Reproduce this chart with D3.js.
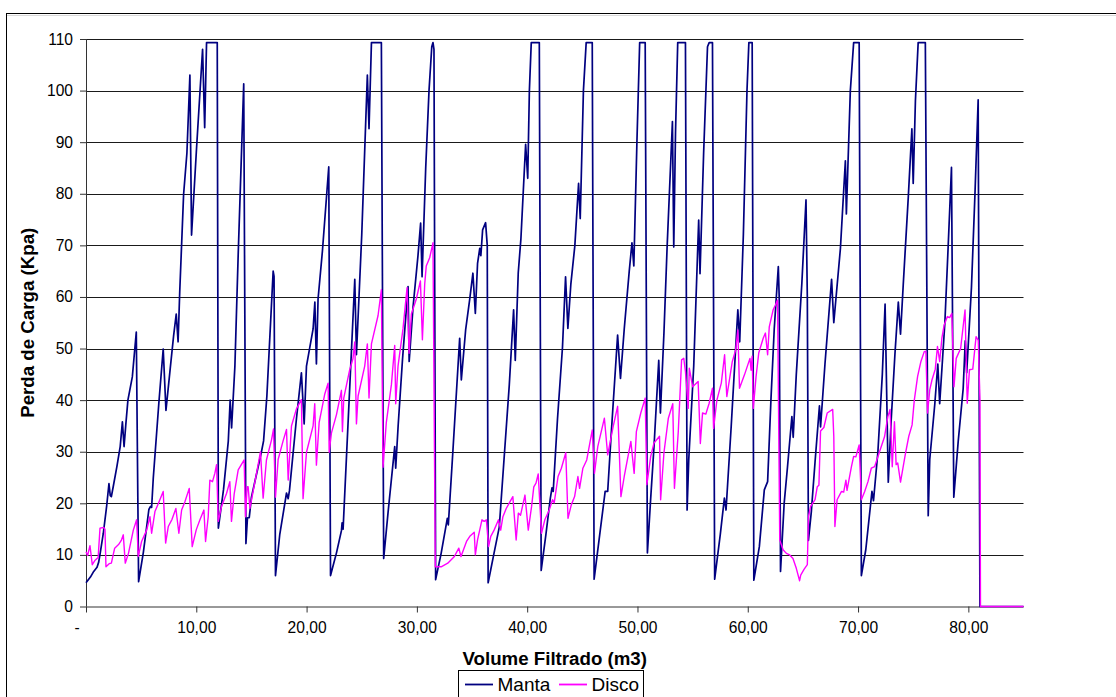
<!DOCTYPE html>
<html>
<head>
<meta charset="utf-8">
<script src="https://cdn.jsdelivr.net/npm/d3@7"></script>
<style>
  html, body { margin: 0; padding: 0; background: #fff; }
  svg { display: block; }
  text { font-family: "Liberation Sans", Arial, sans-serif; fill: #000; }
</style>
</head>
<body>
<svg id="chart" width="1116" height="697"></svg>
<script>
// ---------- DATA ----------
const xTicks = [0, 10, 20, 30, 40, 50, 60, 70, 80];
const yTicks = [0, 10, 20, 30, 40, 50, 60, 70, 80, 90, 100, 110];
const seriesNames = ["Manta", "Disco"];
const xTitle = "Volume Filtrado (m3)";
const yTitle = "Perda de Carga (Kpa)";

// [volume filtrado (m3), perda de carga (kPa)]
const manta = [
[0,4.6],[0.4,5.7],[0.7,6.8],[1.0,7.6],[1.15,8.6],[1.3,10.5],[1.57,14.2],[1.87,19.4],[2.08,23.8],[2.2,21.5],[2.3,21.3],[2.5,23.6],[2.8,27.1],[3.1,31],[3.3,35.8],[3.45,31],[3.6,35],[3.8,40],[4.2,44.5],[4.56,53.2],[4.77,4.8],
[5.2,10.5],[5.7,18.8],[5.85,19.4],[5.95,19.2],[6.1,24.9],[6.6,39.3],[7.0,49.9],[7.25,38],[7.64,46.2],[7.94,52.4],[8.18,56.7],[8.35,51.3],[8.5,61.1],[8.85,79.9],[9.15,87.9],[9.42,103],[9.57,72],[10.0,88],[10.57,108],[10.76,92.8],[10.93,109.3],[11.9,109.3],[12.0,15.2],
[12.47,22.7],[12.9,32],[13.07,40],[13.2,34.6],[13.5,46.6],[13.8,68.3],[14.3,101.3],[14.5,12.2],
[14.64,17.2],[14.8,17.2],[15.0,21.2],[15.6,27],[15.9,29.9],[16.1,32.1],[16.4,40.8],[16.97,65],[17.05,64],[17.18,6.0],
[17.57,14],[18.18,22],[18.33,20.9],[18.45,22.5],[19.08,36.4],[19.53,45.3],[19.78,35.4],[19.99,46.6],[20.59,53.8],[20.75,59],[20.89,47],[21.04,59.6],[21.44,69],[22.01,85.2],[22.17,6.0],
[22.71,10.4],[23.16,14.7],[23.22,16.2],[23.31,15],[24.37,63.4],[24.52,48.8],[25.0,72],[25.51,103],[25.66,92.6],[25.88,109.3],[26.78,109.3],[26.99,9.3],
[27.39,18.3],[27.99,31],[28.08,26.8],[28.3,35],[28.7,48],[29.2,62],[29.3,47.5],[29.65,58],[30.1,68],[30.34,74.3],[30.47,63.9],[30.8,85],[31.1,100],[31.35,108.5],[31.46,109.3],[31.55,108],[31.7,5.2],
[32.2,10.3],[32.76,17.1],[32.85,15.8],[33.27,30.3],[33.88,52],[34.03,43.9],[34.42,53.6],[34.78,59.4],[35.08,64.6],[35.3,56.8],[35.5,66.5],[35.7,69.4],[35.8,68],[35.96,73],[36.23,74.4],[36.38,70],[36.46,4.6],
[37.0,10.4],[37.47,15.4],[37.9,28.5],[38.38,43],[38.77,57.5],[38.92,47.7],[39.19,64.7],[39.43,71.2],[39.86,89.6],[40.05,83],[40.2,100],[40.37,109.3],[41.1,109.3],[41.27,7.0],
[41.7,14],[42.1,21],[42.25,23],[42.36,22.3],[42.75,36.4],[43.2,50.2],[43.48,63.9],[43.69,53.9],[43.96,62.5],[44.32,69.9],[44.66,82],[44.81,75.2],[45.1,100],[45.35,109.3],[45.9,109.3],[46.07,5.3],
[46.6,14.3],[47.07,22.3],[47.3,22.3],[47.6,32.8],[48.2,52.6],[48.46,44.2],[48.8,53.8],[49.25,64.9],[49.5,70.5],[49.67,66],[49.95,90],[50.2,109.3],[50.7,109.3],[50.9,10.4],
[51.2,21],[51.5,31],[51.93,47.7],[52.08,37.5],[52.4,53],[52.69,69.8],[53.17,94],[53.29,69.7],[53.45,92],[53.65,109.3],[54.35,109.3],[54.5,18.7],
[54.65,28.5],[55.1,46.6],[55.55,74.9],[55.67,64.5],[56.0,88],[56.35,108.5],[56.5,109.3],[56.8,109.3],[57.0,5.3],
[57.51,14],[57.88,21],[58.03,18.7],[58.5,35],[59.1,57.5],[59.27,51.3],[59.6,72],[59.93,100],[60.1,109.3],[60.4,109.3],[60.55,5.1],
[61.05,11.6],[61.5,22.6],[61.8,24.2],[62.1,40],[62.4,53.8],[62.77,65.9],[62.85,60],[62.97,6.8],
[63.3,20],[63.6,27],[64.0,36.8],[64.12,32.8],[64.4,45],[64.9,62.5],[65.28,78.8],[65.4,60],[65.5,12.8],
[65.76,18.3],[66.1,28],[66.5,38.9],[66.6,34.8],[67.0,47],[67.6,63.4],[67.8,55],[68.4,69.4],[68.85,86.4],[68.94,76.1],[69.3,100],[69.6,109.3],[70.1,109.3],[70.3,6.0],
[70.7,11],[71.26,22.3],[71.4,20.5],[71.8,30],[72.2,45],[72.45,58.6],[72.74,24.1],[73.0,36],[73.34,48.8],[73.65,59],[73.85,52.8],[74.1,62.5],[74.55,79.2],[74.88,92.6],[75.0,82],[75.2,98],[75.45,109.3],[76.1,109.3],[76.36,17.6],
[76.5,28.5],[76.96,39.3],[77.23,47],[77.4,39.3],[77.87,55],[78.17,69.8],[78.47,85.1],[78.68,21.2],
[79.08,32],[79.53,42.2],[79.72,51.5],[79.85,45.3],[80.28,61.8],[80.6,80],[80.89,98.2],[81.05,0],[85,0]
];

const disco = [
[0,10.6],[0.15,9.9],[0.36,11.8],[0.57,8.1],[0.8,8.9],[1.1,9.5],[1.27,15.2],[1.6,15.3],[1.72,15.0],[1.81,7.7],[2.1,8.3],[2.3,8.4],[2.6,11.3],[2.95,12.0],[3.2,12.8],[3.38,13.9],[3.56,8.4],[3.85,10.3],[4.29,14.8],[4.59,16.8],[4.74,9.7],[5.04,12.6],[5.5,14.8],[5.8,17.4],[5.95,14.2],[6.25,18.4],[6.55,19.9],[7.0,22.3],[7.22,12.3],[7.46,15.5],[7.8,16.9],[8.15,19.0],[8.42,14.2],[8.67,18.7],[8.97,20.3],[9.36,22.9],[9.63,11.6],[10.0,14.9],[10.33,16.8],[10.69,18.7],[10.84,12.6],[11.08,17.4],[11.23,24.5],[11.47,24.2],[11.68,25.8],[11.84,27.5],[11.99,16.5],[12.29,19.4],[12.74,21.9],[13.04,24.2],[13.19,16.5],[13.44,21.9],[13.8,26.5],[14.34,28.4],[14.46,17.4],[14.61,23.2],[14.7,23.2],[14.86,19.0],[15.46,25.8],[15.82,30],[16.06,21],[16.36,28.4],[16.82,32.3],[17.0,34.4],[17.18,21.2],
[17.42,28.5],[17.87,32.1],[18.18,34.3],[18.33,24.5],[18.63,35],[19.08,38.3],[19.53,40.1],[19.68,20.9],[19.99,29.9],[20.59,35],[20.74,39.3],[20.89,27.4],[21.14,35.7],[21.65,41.2],[21.95,43.3],[22.05,29.9],[22.25,33.6],[22.71,37.2],[23.16,41.9],[23.25,33.9],[23.37,40.4],[23.91,45.9],[24.2,48],[24.37,51.3],[24.52,35.4],[24.67,40.8],[25.27,46.6],[25.51,50.9],[25.66,40.4],[25.88,50.9],[26.48,56.4],[26.78,61.4],[26.93,27],[27.23,35.7],[27.69,43],[27.99,50.6],[28.08,39.3],[28.29,46.6],[28.74,53.8],[29.11,61.8],[29.29,49.1],[29.5,56.7],[29.95,59.6],[30.32,63.1],[30.5,51.7],[30.71,62.5],[30.85,66],[31.16,67.6],[31.46,70.5],[31.67,7.7],
[32.2,7.7],[32.8,8.4],[33.4,9.7],[33.8,11.3],[34.0,9.7],[34.5,12.6],[34.8,13.6],[35.2,14.4],[35.3,10.0],[35.5,12.9],[35.9,16.8],[36.1,16.5],[36.3,16.8],[36.5,11.6],[36.7,13.6],[37.0,14.8],[37.4,16.8],[37.6,14.8],[37.8,17.4],[38.1,19.0],[38.7,21.3],[39.0,12.9],[39.2,18.1],[39.4,17.7],[39.8,21.6],[40.1,14.8],[40.4,19.4],[40.6,23.2],[40.8,23.9],[41.0,25.7],[41.3,14.2],[41.6,16.8],[42.0,18.7],[42.3,20.7],[42.45,20.1],[42.8,25.2],[43.1,26.8],[43.5,29.8],[43.7,17.1],[44.0,19.7],[44.3,21.3],[44.6,25.2],[44.75,22.9],[45.05,26.8],[45.4,28.4],[45.9,34.2],[46.1,25.8],[46.4,31],[47.0,36.5],[47.3,29.4],[47.8,34.9],[48.2,38.8],[48.5,21.3],[48.8,25.2],[49.4,32],[49.7,25.8],[49.9,33.9],[50.3,37.5],[50.7,40.4],[50.85,23.6],[51.2,29.1],[51.5,31.7],[52.0,33],[52.1,20.7],[52.4,29.8],[52.8,36.5],[53.2,39.3],[53.35,22.9],[53.7,33.9],[54.0,47.8],[54.2,48.1],[54.35,45.5],[54.6,38.4],[54.7,46.2],[55.0,42.6],[55.5,43.6],[55.7,31.6],[55.9,37.5],[56.2,37.3],[56.5,39.4],[56.8,42.3],[56.9,34.5],[57.2,40],[57.6,43.3],[57.9,48.8],[58.1,40.7],[58.6,47.5],[58.9,49.7],[59.1,53.6],[59.25,42.3],[59.7,44.9],[60.2,48.1],[60.3,45.8],[60.4,48.5],[60.5,38.4],[60.75,44.5],[61.0,49.2],[61.4,52],[61.6,53],[61.8,48.8],[61.95,54.2],[62.3,57.5],[62.5,58.4],[62.7,59.4],[62.9,12.9],
[63.2,11.0],[63.5,10.3],[63.8,10.0],[64.1,9.3],[64.4,7.4],[64.7,5.0],[64.8,6.1],[65.1,7.2],[65.4,8.1],[65.5,17.4],[65.7,19.4],[66.1,20.7],[66.3,23.2],[66.45,23.5],[66.6,34],[66.9,34.7],[67.2,37.5],[67.7,38.2],[67.8,33],[67.9,15.5],[68.1,20.7],[68.5,22.3],[68.7,22.2],[68.9,24.5],[69.0,22.5],[69.4,27.1],[69.6,29.1],[69.8,29],[70.1,31.3],[70.3,20.7],[70.6,22.3],[70.9,24.2],[71.2,26.8],[71.5,27.1],[71.9,29.7],[72.4,32.9],[72.7,36.8],[72.9,38.2],[73.1,27.1],[73.3,35.8],[73.45,27.5],[73.6,27.8],[73.85,24.1],[74.3,29.7],[74.6,33.0],[74.9,35.2],[75.1,40],[75.4,44.6],[75.7,47.5],[76.0,49.4],[76.15,49.5],[76.3,37.5],[76.5,42],[76.7,43.9],[77.0,46],[77.2,50.4],[77.4,47.5],[77.6,52],[77.8,54.5],[78.1,56.2],[78.3,56],[78.5,56.8],[78.7,42.6],[78.9,48.1],[79.3,50],[79.7,57.5],[79.9,39.4],[80.1,45.9],[80.4,46],[80.7,52.3],[80.9,51.6],[81.05,40],[81.1,0],[85,0]
];

// ---------- STYLE / LAYOUT ----------
const colors = { Manta: "#000080", Disco: "#FF00FF" };
const widths = { Manta: 1.7, Disco: 1.4 };
const W = 1116, H = 697;
const plot = { left: 86, right: 1023.5, top: 39, bottom: 606.5 };
const fontTick = 15.6, fontTitle = 18.7, fontLegend = 19;

const svg = d3.select("#chart");
svg.append("rect").attr("width", W).attr("height", H).attr("fill", "#fff");

// chart-area border
svg.append("rect").attr("x", 6.5).attr("y", 13.5).attr("width", 1200).attr("height", 700)
  .attr("fill", "none").attr("stroke", "#000").attr("stroke-width", 1);
svg.append("line").attr("x1", 7).attr("x2", W).attr("y1", 15.5).attr("y2", 15.5)
  .attr("stroke", "#d8d8d8").attr("stroke-width", 1);

const x = d3.scaleLinear().domain([0, 85]).range([plot.left, plot.right]);
const y = d3.scaleLinear().domain([0, 110]).range([plot.bottom, plot.top]);

const locale = d3.formatLocale({ decimal: ",", thousands: ".", grouping: [3], currency: ["", ""] });
const fmtX = locale.format(".2f");

// gridlines
svg.append("g").selectAll("line").data(yTicks.filter(d => d > 0)).join("line")
  .attr("x1", plot.left).attr("x2", plot.right)
  .attr("y1", d => Math.round(y(d)) + 0.5).attr("y2", d => Math.round(y(d)) + 0.5)
  .attr("stroke", "#1a1a1a").attr("stroke-width", 1);

// Y axis
const gy = svg.append("g").attr("transform", `translate(${plot.left},0)`)
  .call(d3.axisLeft(y).tickValues(yTicks).tickSize(6).tickPadding(7).tickFormat(d3.format("d")));
gy.select(".domain").attr("stroke", "#333").attr("d", `M0.5,${plot.top}V${plot.bottom}`);
gy.selectAll(".tick line").attr("stroke", "#333");
gy.selectAll(".tick text").attr("font-size", fontTick).attr("font-family", "Liberation Sans, Arial, sans-serif");

// X axis
const gx = svg.append("g").attr("transform", `translate(0,${plot.bottom})`)
  .call(d3.axisBottom(x).tickValues(xTicks).tickSize(6).tickPadding(9)
    .tickFormat(d => d === 0 ? "-" : fmtX(d)));
gx.select(".domain").attr("stroke", "#333").attr("d", `M${plot.left},0.5H${plot.right}`);
gx.selectAll(".tick line").attr("stroke", "#333");
gx.selectAll(".tick text").attr("font-size", fontTick).attr("font-family", "Liberation Sans, Arial, sans-serif")
  .attr("dx", d => d === 0 ? -9.5 : 0);

// series
const line = d3.line().x(d => x(d[0])).y(d => y(d[1]));
const seriesData = { Manta: manta, Disco: disco };
seriesNames.forEach(name => {
  svg.append("path").datum(seriesData[name])
    .attr("d", line).attr("fill", "none")
    .attr("stroke", colors[name]).attr("stroke-width", widths[name])
    .attr("stroke-linejoin", "round");
});

// axis titles
svg.append("text").attr("x", (plot.left + plot.right) / 2).attr("y", 665)
  .attr("text-anchor", "middle").attr("font-size", fontTitle).attr("font-weight", "bold")
  .text(xTitle);
svg.append("text").attr("transform", `translate(33.5,${(plot.top + plot.bottom) / 2}) rotate(-90)`)
  .attr("text-anchor", "middle").attr("font-size", fontTitle).attr("font-weight", "bold")
  .text(yTitle);

// legend
const lg = svg.append("g");
lg.append("rect").attr("x", 458.5).attr("y", 670.5).attr("width", 185).attr("height", 40)
  .attr("fill", "#fff").attr("stroke", "#000").attr("stroke-width", 1);
const legendItems = [
  { name: seriesNames[0], x0: 465 },
  { name: seriesNames[1], x0: 559 }
];
legendItems.forEach(it => {
  lg.append("line").attr("x1", it.x0).attr("x2", it.x0 + 28).attr("y1", 684.5).attr("y2", 684.5)
    .attr("stroke", colors[it.name]).attr("stroke-width", 1.8);
  lg.append("text").attr("x", it.x0 + 32.5).attr("y", 691).attr("font-size", fontLegend).text(it.name);
});
</script>
</body>
</html>
